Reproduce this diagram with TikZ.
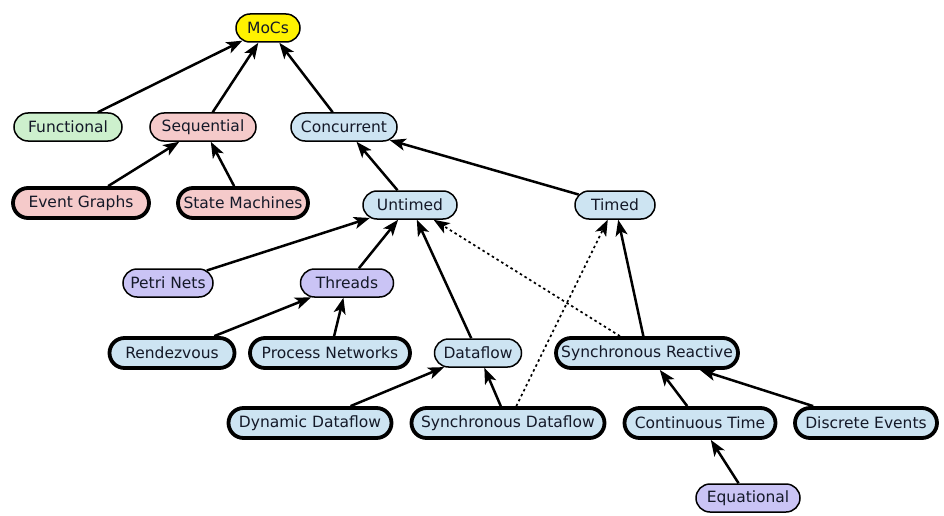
\documentclass[tikz,border=0pt]{standalone}
\usepackage{fontspec}
\setmainfont{DejaVu Sans}
\usetikzlibrary{shapes.misc,arrows.meta}
\definecolor{cyel}{RGB}{255,242,0}
\definecolor{cgreen}{RGB}{205,240,205}
\definecolor{cpink}{RGB}{245,202,202}
\definecolor{cblue}{RGB}{205,228,242}
\definecolor{cpurp}{RGB}{202,196,245}
\definecolor{ctext}{RGB}{20,25,40}
\tikzset{
  moc/.style={rounded rectangle, draw=black, line width=1.5pt, minimum height=28pt,
    inner xsep=3pt, inner ysep=2pt, text=ctext, font=\fontsize{15.5}{18}\selectfont},
  thickb/.style={line width=3.8pt, minimum height=30pt},
  tip/.tip={Stealth[length=16pt 0, width=12pt 0, inset=4pt 0]},
  edge/.style={line width=2.5pt, -tip},
  dotedge/.style={line width=1.7pt, dash pattern=on 2.5pt off 3pt, -tip}
}
\begin{document}
\begin{tikzpicture}[x=1pt,y=-1pt]
\useasboundingbox[fill=white] (0,0) rectangle (944,516);
\node[moc, fill=cyel, minimum width=70pt] (mocs) at (268,28) {MoCs};
\node[moc, fill=cgreen, minimum width=114pt] (func) at (68,127) {Functional};
\node[moc, fill=cpink, minimum width=112pt] (seq) at (203,127) {Sequential};
\node[moc, fill=cblue, minimum width=112pt] (conc) at (344,127) {Concurrent};
\node[moc, thickb, fill=cpink, minimum width=142pt] (eg) at (81,203) {Event Graphs};
\node[moc, thickb, fill=cpink, minimum width=136pt] (sm) at (243,203) {State Machines};
\node[moc, fill=cblue, minimum width=100pt] (unt) at (410,205) {Untimed};
\node[moc, fill=cblue, minimum width=86pt] (tim) at (615,205) {Timed};
\node[moc, fill=cpurp, minimum width=96pt] (petri) at (168,283) {Petri Nets};
\node[moc, fill=cpurp, minimum width=99pt] (thr) at (347,283) {Threads};
\node[moc, thickb, fill=cblue, minimum width=131pt] (rdv) at (172,353) {Rendezvous};
\node[moc, thickb, fill=cblue, minimum width=166pt] (pn) at (330,353) {Process Networks};
\node[moc, fill=cblue, minimum width=93pt] (df) at (478,353) {Dataflow};
\node[moc, thickb, fill=cblue, minimum width=188pt] (sr) at (647,353) {Synchronous Reactive};
\node[moc, thickb, fill=cblue, minimum width=169pt] (ddf) at (310,423) {Dynamic Dataflow};
\node[moc, thickb, fill=cblue, minimum width=199pt] (sdf) at (508,423) {Synchronous Dataflow};
\node[moc, thickb, fill=cblue, minimum width=157pt] (ct) at (700,423) {Continuous Time};
\node[moc, thickb, fill=cblue, minimum width=148pt] (de) at (866,423) {Discrete Events};
\node[moc, fill=cpurp, minimum width=110pt] (eq) at (748,498) {Equational};
\draw[edge] (func) -- (mocs);
\draw[edge] (seq) -- (mocs);
\draw[edge] (conc) -- (mocs);
\draw[edge] (eg) -- (seq);
\draw[edge] (sm) -- (seq);
\draw[edge] (unt) -- (conc);
\draw[edge] (tim) -- (conc);
\draw[edge] (petri) -- (unt);
\draw[edge] (thr) -- (unt);
\draw[edge] (df) -- (unt);
\draw[dotedge] (sr) -- (unt);
\draw[dotedge] (sdf) -- (tim);
\draw[edge] (sr) -- (tim);
\draw[edge] (rdv) -- (thr);
\draw[edge] (pn) -- (thr);
\draw[edge] (ddf) -- (df);
\draw[edge] (sdf) -- (df);
\draw[edge] (ct) -- (sr);
\draw[edge] (de) -- (sr);
\draw[edge] (eq) -- (ct);
\end{tikzpicture}
\end{document}
